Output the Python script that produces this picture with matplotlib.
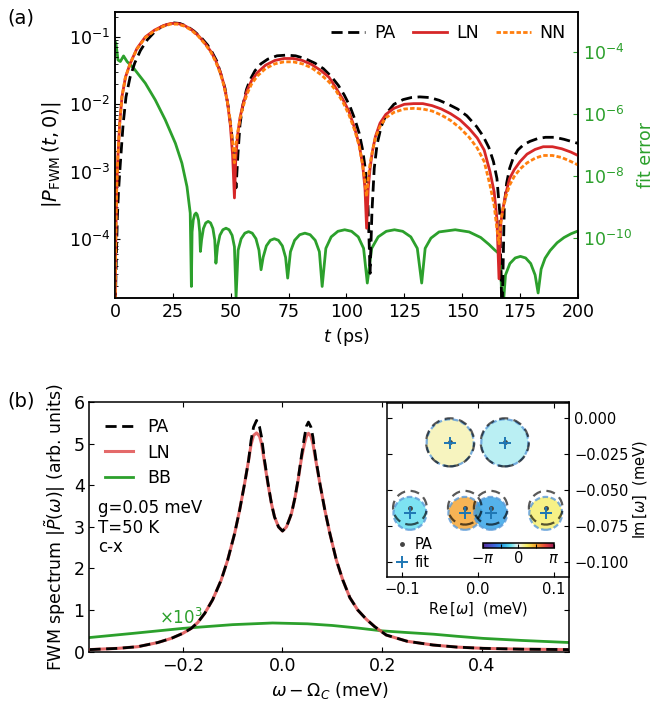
import numpy as np
import matplotlib
matplotlib.use('Agg')
import matplotlib.pyplot as plt
from matplotlib.colors import LinearSegmentedColormap, Normalize
from matplotlib.cm import ScalarMappable
from matplotlib import rcParams
rcParams.update({'font.size': 12.5, 'mathtext.fontset': 'dejavusans', 'axes.linewidth': 1.1})

# ---- panel (a): |P_FWM(t,0)| as log10 values
t_pa = [0, 0.5, 1.0, 1.5, 2.3, 3.5, 4.75, 6.5, 8.5, 11,
        14, 17, 20, 23, 25, 28, 31, 34, 37, 40,
        42, 44, 46, 47.5, 49, 50.3, 51.3, 52.3, 53.1, 54,
        55.2, 56.8, 58.3, 60.5, 63, 66, 70, 74, 78, 82,
        86.4, 90, 93.5, 96.5, 99, 101.5, 103.7, 105.5, 107, 108.3,
        109.3, 110.2, 111, 112, 113.2, 115, 117.4, 120.5, 124.5, 128,
        131.7, 136, 140, 144, 148, 152, 156.2, 159, 161.5, 163.5,
        165, 166.2, 167.2, 168.2, 169.2, 170.5, 172, 174, 176.5, 179.3,
        182.5, 186, 190, 194, 197, 200]
pa_log = [-5.2, -4.4, -3.7, -3.3, -2.88, -2.3, -1.89, -1.6, -1.39, -1.2,
          -1.04, -0.93, -0.85, -0.81, -0.79, -0.8, -0.84, -0.91, -1.0, -1.12,
          -1.23, -1.36, -1.58, -1.76, -2.05, -2.4, -2.8, -3.24, -2.75, -2.3,
          -2.02, -1.78, -1.64, -1.5, -1.4, -1.33, -1.28, -1.27, -1.28, -1.32,
          -1.39, -1.47, -1.59, -1.72, -1.86, -2.03, -2.23, -2.43, -2.68, -3.0,
          -3.5, -4.51, -3.6, -2.95, -2.6, -2.33, -2.13, -2.0, -1.93, -1.9,
          -1.89, -1.9, -1.94, -2.0, -2.07, -2.17, -2.33, -2.47, -2.64, -2.85,
          -3.1, -3.6, -5.2, -3.5, -3.17, -2.95, -2.8, -2.68, -2.6, -2.55,
          -2.51, -2.49, -2.49, -2.52, -2.55, -2.58]

t_ln = [0, 0.2, 0.4, 0.7, 1.1, 2, 3, 4.5, 6.6, 9.5,
        13.1, 17, 21, 24, 27, 30, 33, 36, 39, 41.5,
        43.5, 45.5, 47, 48.5, 49.8, 50.8, 51.6, 52.2, 53, 54,
        55.3, 57, 59, 61.5, 65, 69, 73, 77, 81, 85,
        89, 92.5, 95.5, 98.5, 101, 103.5, 105.5, 107, 108, 108.7,
        109.4, 110.2, 111.2, 112.5, 114.5, 117, 120.5, 125, 129, 133,
        137, 141, 145, 149, 153, 156.5, 159.5, 162, 163.8, 165,
        165.9, 166.7, 167.6, 168.8, 170.5, 172.5, 175, 178, 181.5, 185,
        189, 193, 197, 200]
ln_log = [-5.2, -4.5, -3.87, -3.3, -2.88, -2.3, -1.89, -1.6, -1.39, -1.17,
          -1.0, -0.9, -0.83, -0.8, -0.8, -0.83, -0.89, -0.98, -1.1, -1.22,
          -1.35, -1.52, -1.7, -1.95, -2.3, -2.75, -3.39, -2.8, -2.45, -2.2,
          -2.0, -1.8, -1.65, -1.53, -1.42, -1.35, -1.32, -1.32, -1.35, -1.41,
          -1.5, -1.6, -1.76, -1.93, -2.1, -2.35, -2.6, -2.9, -3.25, -3.84,
          -3.25, -2.95, -2.7, -2.48, -2.28, -2.15, -2.06, -2.0, -1.99, -1.99,
          -2.02, -2.07, -2.14, -2.23, -2.36, -2.5, -2.68, -3.0, -3.3, -3.7,
          -4.59, -3.75, -3.55, -3.33, -3.1, -2.97, -2.85, -2.74, -2.67, -2.63,
          -2.63, -2.66, -2.71, -2.76]

t_nn = t_ln
nn_log = [-5.2, -4.5, -3.87, -3.3, -2.88, -2.3, -1.89, -1.6, -1.39, -1.18,
          -1.01, -0.91, -0.84, -0.81, -0.81, -0.84, -0.9, -0.99, -1.11, -1.23,
          -1.37, -1.54, -1.72, -1.95, -2.25, -2.55, -2.87, -2.6, -2.42, -2.22,
          -2.04, -1.85, -1.7, -1.58, -1.47, -1.4, -1.37, -1.37, -1.4, -1.46,
          -1.56, -1.67, -1.8, -1.97, -2.15, -2.38, -2.62, -2.9, -3.15, -3.37,
          -3.1, -2.88, -2.7, -2.5, -2.33, -2.2, -2.12, -2.07, -2.06, -2.07,
          -2.1, -2.16, -2.24, -2.35, -2.49, -2.65, -2.85, -3.2, -3.5, -3.85,
          -4.07, -3.75, -3.55, -3.38, -3.2, -3.07, -2.96, -2.87, -2.8, -2.76,
          -2.76, -2.79, -2.85, -2.9]

# fit error (right axis), log10 values
t_err = [0, 0.4, 1.3, 2.3, 3.7, 5.2, 8.1, 13.1, 17.4, 21.7, 26.1, 28.9, 31.1, 32.5, 33.0,
         33.3, 33.8, 34.4, 35.0, 35.5, 36.1, 36.6, 36.9,
         37.4, 38.2, 39.2, 40.25, 41.3, 42.3, 43.1, 43.6,
         44.3, 45.3, 46.6, 47.95, 49.3, 50.6, 51.6, 52.3,
         53.2, 54.5, 56.1, 57.7, 59.3, 60.9, 62.2, 63.1,
         64.0, 65.4, 67.1, 68.85, 70.6, 72.3, 73.7, 74.6,
         75.8, 77.6, 79.8, 82.05, 84.3, 86.5, 88.3, 89.5,
         91.1, 93.4, 96.3, 99.25, 102.2, 105.1, 107.4, 109,
         110.9, 113.7, 117.2, 120.75, 124.3, 127.8, 130.6, 132.5,
         134.0, 136.5, 140, 147, 153, 158, 161.5, 164, 165.6, 166.6, 167.5,
         168.0, 168.7, 170.6, 172.9, 175.15, 177.4, 179.6, 181.5, 182.8,
         184.1, 185.8, 188, 191, 194, 197, 200]
err_log = [-3.65, -3.71, -4.25, -4.30, -4.12, -4.30, -4.52, -5.0, -5.54, -6.18, -6.94, -7.58, -8.34, -9.19, -11.56,
           -9.8, -9.42, -9.24, -9.19, -9.24, -9.42, -9.8, -10.43,
           -10.06, -9.69, -9.51, -9.46, -9.51, -9.69, -10.06, -10.81,
           -10.28, -9.91, -9.73, -9.68, -9.73, -9.91, -10.28, -11.9,
           -10.39, -10.02, -9.84, -9.79, -9.84, -10.02, -10.39, -11.02,
           -10.62, -10.25, -10.07, -10.02, -10.07, -10.25, -10.62, -11.29,
           -10.44, -10.07, -9.89, -9.84, -9.89, -10.07, -10.44, -11.56,
           -10.33, -9.96, -9.78, -9.73, -9.78, -9.96, -10.33, -11.45,
           -10.33, -9.96, -9.78, -9.73, -9.78, -9.96, -10.33, -11.45,
           -10.33, -10.0, -9.8, -9.73, -9.8, -9.98, -10.2, -10.38, -10.48, -10.8, -13,
           -11.9, -11.19, -10.82, -10.64, -10.59, -10.64, -10.82, -11.19, -11.77,
           -11.0, -10.65, -10.4, -10.15, -9.98, -9.86, -9.77]

# ---- panel (b): FWM spectrum
w_spec = [-0.387, -0.33, -0.29, -0.25, -0.223, -0.2, -0.183, -0.17, -0.156, -0.14, -0.123, -0.11, -0.096, -0.086, -0.076,
          -0.068, -0.063, -0.058, -0.052, -0.046, -0.042, -0.036, -0.029, -0.022, -0.016, -0.008, 0, 0.008, 0.018, 0.025,
          0.031, 0.038, 0.044, 0.048, 0.052, 0.057, 0.061, 0.066, 0.075, 0.085, 0.095, 0.108, 0.121, 0.135, 0.151,
          0.168, 0.185, 0.208, 0.25, 0.302, 0.35, 0.402, 0.48, 0.575]
pa_spec = [0.05, 0.08, 0.12, 0.22, 0.32, 0.44, 0.56, 0.70, 0.92, 1.25, 1.72, 2.2, 2.84, 3.4, 4.04,
           4.6, 5.08, 5.4, 5.56, 5.4, 5.16, 4.6, 4.04, 3.55, 3.24, 3.0, 2.90, 3.0, 3.32, 3.7,
           4.12, 4.7, 5.16, 5.42, 5.52, 5.4, 5.16, 4.7, 4.04, 3.4, 2.84, 2.2, 1.72, 1.3, 1.0,
           0.78, 0.60, 0.40, 0.25, 0.16, 0.11, 0.08, 0.06, 0.05]
ln_spec = [0.05, 0.08, 0.12, 0.22, 0.32, 0.44, 0.56, 0.70, 0.92, 1.25, 1.72, 2.2, 2.84, 3.4, 4.04,
           4.6, 4.98, 5.2, 5.26, 5.18, 5.0, 4.55, 4.02, 3.55, 3.24, 3.0, 2.90, 3.0, 3.32, 3.7,
           4.1, 4.65, 5.0, 5.18, 5.25, 5.18, 5.0, 4.65, 4.04, 3.4, 2.84, 2.2, 1.72, 1.3, 1.0,
           0.78, 0.60, 0.40, 0.25, 0.16, 0.11, 0.08, 0.06, 0.05]
w_bb = [-0.387, -0.3, -0.2, -0.1, -0.02, 0.05, 0.1, 0.15, 0.2, 0.25, 0.303, 0.35, 0.402, 0.48, 0.575]
bb_spec = [0.34, 0.44, 0.56, 0.65, 0.69, 0.67, 0.63, 0.57, 0.50, 0.46, 0.42, 0.37, 0.32, 0.27, 0.22]

# ---- inset: poles
pa_re = [-0.0368, 0.0351, -0.0898, -0.0175, 0.0166, 0.089]
pa_im = [-0.0169, -0.0169, -0.0623, -0.0623, -0.0623, -0.0623]
fit_re = [-0.0368, 0.0351, -0.0898, -0.0175, 0.0166, 0.089]
fit_im = [-0.0172, -0.0172, -0.0662, -0.0662, -0.0662, -0.0662]
amp = [1.0, 1.0, 0.7, 0.7, 0.7, 0.7]
phase = [0.35, -0.35, -0.75, 1.6, -1.4, 0.75]

green = 'tab:green'
phase_cmap = LinearSegmentedColormap.from_list('phase', [
    (0, '#5a2d9c'), (0.15, '#4060d8'), (0.277, '#2aa0e6'), (0.389, '#60e0f0'), (0.5, '#f6f6f0'),
    (0.627, '#f6ee60'), (0.755, '#f5a22a'), (0.882, '#e6453a'), (1, '#a01a55')])

fig = plt.figure(figsize=(6.56, 7.03), dpi=100)

# (a)
ax1 = fig.add_axes([0.1753, 0.576, 0.7057, 0.407])
ax1r = ax1.twinx()
ax1.set_zorder(ax1r.get_zorder() + 1)
ax1.patch.set_visible(False)

ax1.plot(t_pa, 10**np.array(pa_log), '--', color='k', lw=2, dashes=(4, 2), label='PA')
ax1.plot(t_ln, 10**np.array(ln_log), '-', color='tab:red', lw=2, label='LN')
ax1.plot(t_nn, 10**np.array(nn_log), '--', color='tab:orange', lw=2, dashes=(1.6, 0.8), label='NN')
ax1.set_yscale('log')
ax1.set_xlim(0, 200)
ax1.set_ylim(10**-4.877, 10**-0.629)
ax1.set_xticks([0, 25, 50, 75, 100, 125, 150, 175, 200])
ax1.set_yticks([1e-1, 1e-2, 1e-3, 1e-4])
ax1.tick_params(which='both', direction='in')
ax1.set_xlabel(r'$t$ (ps)')
ax1.set_ylabel(r'$|P_{\mathrm{FWM}}\,(t,0)|$', fontsize=14)
ax1.legend(loc='upper right', ncol=3, frameon=False, handlelength=2.0, columnspacing=1.0,
           handletextpad=0.5, borderaxespad=0.3)

ax1r.plot(t_err, 10**np.array(err_log), color=green, lw=2)
ax1r.set_yscale('log')
ax1r.set_ylim(10**-11.935, 10**-2.70)
ax1r.set_yticks([1e-4, 1e-6, 1e-8, 1e-10])
ax1r.yaxis.set_minor_locator(matplotlib.ticker.NullLocator())
ax1r.tick_params(axis='y', direction='in', colors=green)
ax1r.set_ylabel('fit error', color=green)

# (b)
ax2 = fig.add_axes([0.1364, 0.073, 0.7314, 0.355])
ax2.plot(w_bb, bb_spec, color=green, lw=2, label='BB', zorder=2)
ax2.plot(w_spec, ln_spec, color='#e05050', alpha=0.85, lw=2.2, label='LN', zorder=3)
ax2.plot(w_spec, pa_spec, '--', color='k', lw=2, dashes=(4, 2), label='PA', zorder=4)
ax2.set_xlim(-0.387, 0.575)
ax2.set_ylim(0, 6)
ax2.set_xticks([-0.2, 0.0, 0.2, 0.4])
ax2.set_yticks([0, 1, 2, 3, 4, 5, 6])
ax2.tick_params(direction='in', top=True, right=True)
ax2.set_xlabel(r'$\omega-\Omega_C$ (meV)')
ax2.set_ylabel(r'FWM spectrum $|\tilde{P}(\omega)|$ (arb. units)')
h, l = ax2.get_legend_handles_labels()
ax2.legend([h[2], h[1], h[0]], [l[2], l[1], l[0]], loc='upper left', frameon=False,
           handlelength=1.6, handletextpad=0.8, labelspacing=0.45)
ax2.text(0.018, 0.61, 'g=0.05 meV\nT=50 K\nc-x', transform=ax2.transAxes, va='top', ha='left',
         fontsize=12, linespacing=1.1)
ax2.text(-0.247, 0.57, r'$\times10^3$', color=green, fontsize=12, va='bottom', ha='left')

# inset
ax3 = fig.add_axes([0.5899, 0.1792, 0.2779, 0.2475])
ax3.set_facecolor('white')
ax3.scatter(fit_re, fit_im, s=1145 * np.array(amp)**2, c=phase, cmap=phase_cmap, vmin=-np.pi, vmax=np.pi,
            alpha=0.8, edgecolors='#5a9ad8', linestyles=[(0, (2.5, 1.2))], linewidths=1.6, zorder=2)
ax3.scatter(pa_re, pa_im, s=1200 * np.array(amp)**2, facecolors='none', edgecolors='k', alpha=0.65,
            linestyles=[(0, (4, 2.5))], linewidths=1.6, zorder=3)
ax3.plot(pa_re, pa_im, '.', color='#444444', ms=5, ls='none', label='PA', zorder=4)
ax3.plot(fit_re, fit_im, '+', color='tab:blue', ms=8, mew=1.4, ls='none', label='fit', zorder=5)
ax3.set_xlim(-0.12, 0.12)
ax3.set_ylim(-0.1104, 0.0104)
ax3.set_xticks([-0.1, 0.0, 0.1])
ax3.set_yticks([0, -0.025, -0.05, -0.075, -0.1])
ax3.yaxis.tick_right()
ax3.yaxis.set_label_position('right')
ax3.tick_params(direction='in', labelsize=10.5, left=True, right=True, top=True)
ax3.set_xlabel(r'$\mathrm{Re}\,[\omega]$  (meV)', fontsize=10.5, labelpad=2)
ax3.set_ylabel(r'$\mathrm{Im}\,[\omega]$  (meV)', fontsize=10.5, labelpad=2)
ax3.legend(loc='lower left', frameon=False, fontsize=10.5, handlelength=1.0, handletextpad=0.4,
           borderaxespad=0.1, labelspacing=0.2)

cax = fig.add_axes([0.736, 0.2205, 0.108, 0.0075])
cb = fig.colorbar(ScalarMappable(norm=Normalize(-np.pi, np.pi), cmap=phase_cmap), cax=cax, orientation='horizontal')
cb.set_ticks([-np.pi, -np.pi/2, 0, np.pi/2, np.pi])
cb.set_ticklabels([r'$-\pi$', '', '0', '', r'$\pi$'])
cax.tick_params(direction='in', labelsize=10.5, length=3, pad=2)

fig.text(0.012, 0.975, '(a)', fontsize=14, va='center')
fig.text(0.012, 0.4296, '(b)', fontsize=14, va='center')

plt.savefig('out.png', dpi=100)
